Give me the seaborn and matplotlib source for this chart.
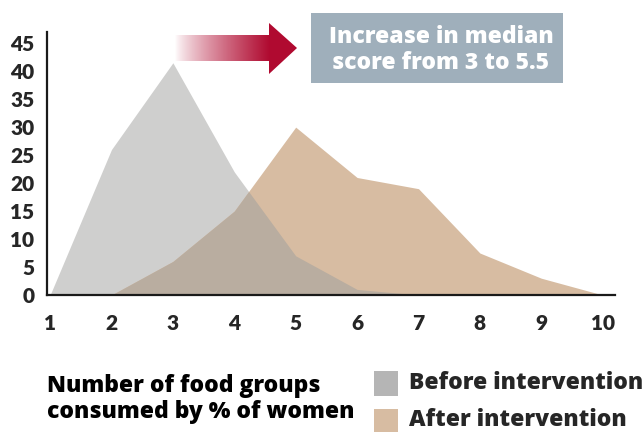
import numpy as np
import pandas as pd
import matplotlib
matplotlib.use("Agg")
import matplotlib.pyplot as plt
import seaborn as sns
from matplotlib.patches import Polygon, Rectangle
from matplotlib.colors import LinearSegmentedColormap

food_groups = [1, 2, 3, 4, 5, 6, 7, 8, 9, 10]
before = [0, 26, 41.5, 22, 7, 1, 0, 0, 0, 0]
after = [0, 0, 6, 15, 30, 21, 19, 7.5, 3, 0]
x_ticks = [1, 2, 3, 4, 5, 6, 7, 8, 9, 10]
y_ticks = [0, 5, 10, 15, 20, 25, 30, 35, 40, 45]
legend_labels = ["Before intervention", "After intervention"]
annotation = "Increase in median\nscore from 3 to 5.5"
xlabel = "Number of food groups\nconsumed by % of women"

c_before = "#cfcfce"
c_after = "#d7bca2"
c_overlap = "#b9ada0"

sns.set_style("white")
plt.rcParams['font.family'] = ['Lato', 'DejaVu Sans']
FW = 'heavy'
TF = ['Open Sans', 'DejaVu Sans']
TS = 16.5

df = pd.DataFrame({"x": food_groups, "before": before, "after": after})

fig = plt.figure(figsize=(6.42, 4.32), dpi=100)
W, H = 642, 432
ax = fig.add_axes([47 / W, 1 - 295 / H, 568 / W, 263 / H])

ax.fill_between(df["x"], 0, df["before"], color=c_before, lw=0)
ax.fill_between(df["x"], 0, df["after"], color=c_after, lw=0)
xf = np.linspace(1, 10, 2000)
ov = np.minimum(np.interp(xf, df["x"], df["before"]), np.interp(xf, df["x"], df["after"]))
ax.fill_between(xf, 0, ov, color=c_overlap, lw=0)
sns.lineplot(data=df, x="x", y="before", ax=ax, lw=0, legend=False)

ax.set_xlim(0.95, 10.2)
ax.set_ylim(0, 47)
ax.set_xticks(x_ticks)
ax.set_yticks(y_ticks)
ax.set_xticklabels([str(t) for t in x_ticks], fontsize=15, fontweight=FW)
ax.set_yticklabels([str(t) for t in y_ticks], fontsize=15, fontweight=FW)
ax.tick_params(axis='both', length=0)
ax.tick_params(axis='x', pad=14)
ax.tick_params(axis='y', pad=9)
ax.set_xlabel("")
ax.set_ylabel("")
sns.despine(ax=ax)
for s in ["left", "bottom"]:
    ax.spines[s].set_color("#1a1a1a")
    ax.spines[s].set_linewidth(1.6)

# overlay for decorations in pixel coordinates
ov_ax = fig.add_axes([0, 0, 1, 1], zorder=5)
ov_ax.set_xlim(0, W)
ov_ax.set_ylim(H, 0)
ov_ax.axis("off")

# gradient arrow
cmap = LinearSegmentedColormap.from_list("g", ["#ffffff", "#b00a30"])
grad = np.linspace(0, 1, 256).reshape(1, -1) ** 0.8
ov_ax.imshow(grad, cmap=cmap, extent=[175, 270, 61, 35], aspect='auto', interpolation='bilinear')
ov_ax.add_patch(Polygon([[269, 23], [297, 48], [269, 74]], closed=True, color="#b00a30", lw=0))
ov_ax.set_xlim(0, W)
ov_ax.set_ylim(H, 0)

# annotation box
ov_ax.add_patch(Rectangle((311, 13), 252, 70, color="#9fafbb", lw=0))
ov_ax.text(441, 50, annotation, color="white", fontsize=TS, fontweight=FW, family=TF,
           ha='center', va='center', linespacing=1.15)

# bottom text
ov_ax.text(47, 399, xlabel, color="black", fontsize=TS, fontweight=FW, family=TF,
           ha='left', va='center', linespacing=1.15)

# legend
ov_ax.add_patch(Rectangle((374, 371), 24, 25, color="#b5b5b5", lw=0))
ov_ax.add_patch(Rectangle((374, 409), 24, 25, color=c_after, lw=0))
ov_ax.text(409, 383, legend_labels[0], fontsize=TS, fontweight=FW, family=TF, ha='left', va='center')
ov_ax.text(409, 420, legend_labels[1], fontsize=TS, fontweight=FW, family=TF, ha='left', va='center')

fig.savefig("out.png", dpi=100)
